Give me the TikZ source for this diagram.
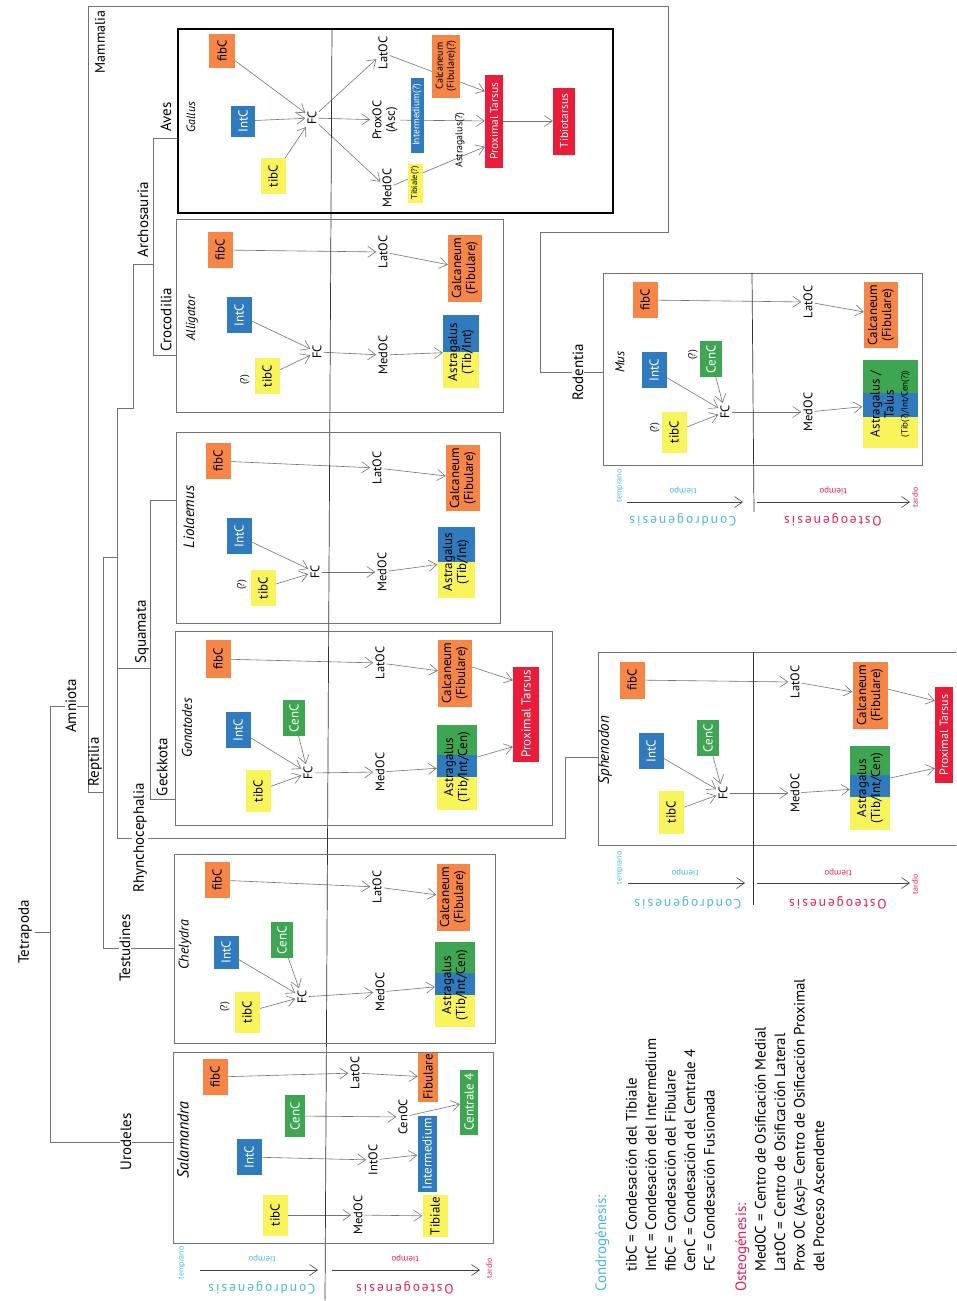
\documentclass[tikz,border=0pt]{standalone}
\usepackage{fontspec}
\setmainfont{PT Sans}
\newfontfamily\spaced[LetterSpace=14]{PT Sans}
\usetikzlibrary{arrows.meta}

\definecolor{cfib}{RGB}{246,134,72}
\definecolor{cint}{RGB}{48,122,190}
\definecolor{ctib}{RGB}{250,244,92}
\definecolor{ccen}{RGB}{62,166,82}
\definecolor{cprox}{RGB}{234,28,58}
\definecolor{ccond}{RGB}{72,182,226}
\definecolor{costeo}{RGB}{228,32,84}
\definecolor{lngray}{RGB}{115,115,115}

\pgfdeclarelayer{bg}
\pgfsetlayers{bg,main}

\newcommand{\fsz}[2]{\fontsize{#1}{#2}\selectfont}

\tikzset{
  arr/.style={draw=lngray, line width=.6pt, -{Straight Barb[length=8pt,width=11pt]}},
  tarr/.style={draw=black!75, line width=.6pt, -{Straight Barb[length=8pt,width=11pt]}},
  cbox/.style={rotate=90, inner sep=1pt, align=center, font=\fsz{13}{14}, minimum width=36pt, minimum height=25pt},
  fib/.style={cbox, fill=cfib},
  int/.style={cbox, fill=cint, text=white},
  tib/.style={cbox, fill=ctib},
  cen/.style={cbox, fill=ccen, text=white, minimum height=22pt},
  prox/.style={cbox, fill=cprox, text=white},
  lbl/.style={rotate=90, inner sep=2pt, align=center, font=\fsz{12.5}{13.5}},
  unsure/.style={rotate=90, inner sep=0pt, font=\fsz{10}{11}},
  taxon/.style={rotate=90, inner sep=1pt, font=\fsz{14}{15}\itshape},
  clade/.style={rotate=90, inner sep=1pt, font=\fsz{15}{16}},
  onstem/.style={clade, fill=white},
  panel/.style={draw=lngray, line width=.5pt},
  tree/.style={draw=lngray, line width=.5pt},
  tword/.style={rotate=180, inner sep=0pt, font=\fsz{9}{10}},
  gen/.style={rotate=180, inner sep=0pt, font=\fsz{13.5}{14}\spaced},
  endword/.style={rotate=90, inner sep=0pt, font=\fsz{8}{9}},
}

\begin{document}
\begin{tikzpicture}[x=1pt,y=-1pt]
\useasboundingbox (0,0) rectangle (956,1301);

% ---------- phylogeny ----------
\begin{pgfonlayer}{bg}
\draw[tree] (35,932) -- (50,932);
\draw[tree] (50,706) -- (50,1142) -- (173,1142);
\draw[tree] (50,706) -- (88,706);
\draw[tree] (603,372) -- (540,372) -- (540,232) -- (668,232) -- (668,6) -- (88,6) -- (88,792) -- (103,792);
\draw[tree] (103,557) -- (103,948) -- (174,948);
\draw[tree] (103,557) -- (117,557);
\draw[tree] (117,408) -- (117,838) -- (565,838) -- (565,757) -- (598,757);
\draw[tree] (117,408) -- (133,408) -- (133,264) -- (153,264);
\draw[tree] (178,138) -- (153,138) -- (153,355) -- (176,355);
\draw[tree] (117,668) -- (150,668);
\draw[tree] (176,500) -- (150,500) -- (150,799) -- (175,799);
\end{pgfonlayer}

\node[clade] (tetrapoda) at (25,932) {Tetrapoda};
\node[onstem] (urodeles) at (126,1142) {Urodeles};
\node[onstem] (amniota) at (71,706) {Amniota};
\node[clade, font=\fsz{14}{15}] (mammalia) at (100,42) {Mammalia};
\node[onstem] (rodentia) at (578,372) {Rodentia};
\node[clade] (reptilia) at (95,762) {Reptilia};
\node[onstem] (testudines) at (125,948) {Testudines};
\node[onstem] (rhyncho) at (140,838) {Rhynchocephalia};
\node[clade] (squamata) at (142,632) {Squamata};
\node[clade] (geckkota) at (162,767) {Geckkota};
\node[clade] (archo) at (143,220) {Archosauria};
\node[clade] (croco) at (166,320) {Crocodilia};
\node[clade] (aves) at (166,117) {Aves};

% long divider chondrogenesis / osteogenesis
\draw[black!80, line width=.7pt] (332,28) -- (325,1300);

% ---------- Gallus ----------
\draw[line width=1.4pt] (178,29) rectangle (613,213);
\node[taxon, font=\fsz{12}{13}\itshape] (gallus) at (191,117) {Gallus};
\node[fib, minimum width=34pt, minimum height=26pt] (galfib) at (222,51) {fibC};
\node[int, minimum width=31pt, minimum height=24pt] (galint) at (243,121) {IntC};
\node[tib] (galtib) at (273,176) {tibC};
\node[lbl] (galfc) at (312,118) {FC};
\node[lbl] (gallat) at (383,53) {LatOC};
\node[lbl] (galprox) at (385,120) {ProxOC\\(Asc)};
\node[lbl] (galmed) at (387,188) {MedOC};
\node[int, font=\fsz{9.5}{10}, minimum width=75pt, minimum height=13pt] (galintm) at (417,115) {Intermedium(?)};
\node[tib, font=\fsz{8.5}{9}, minimum width=39pt, minimum height=15pt] (galtibl) at (415,183) {Tibiale(?)};
\node[fib, font=\fsz{10}{11}, minimum width=63pt, minimum height=28pt] (galcal) at (446,66) {Calcaneum\\(Fibulare)(?)};
\node[lbl, font=\fsz{10}{11}] (galast) at (460,140) {Astragalus(?)};
\node[prox, font=\fsz{11.5}{12}, minimum width=93pt, minimum height=18pt] (galpt) at (494,121) {Proximal Tarsus};
\node[prox, font=\fsz{11.5}{12}, minimum width=67pt, minimum height=22pt] (galtt) at (564,121) {Tibiotarsus};

\begin{pgfonlayer}{bg}
\draw[arr] (galfib) -- (galfc);
\draw[arr] (galint) -- (galfc);
\draw[arr] (galtib) -- (galfc);
\draw[arr] (galfc) -- (gallat);
\draw[arr] (galfc) -- (galprox);
\draw[arr] (galfc) -- (galmed);
\draw[arr] (gallat) -- ([yshift=-17pt]galpt.north east);
\draw[arr] (galprox) -- (galpt);
\draw[arr] (galmed) -- ([yshift=21pt]galpt.north west);
\draw[arr] (galpt) -- (galtt);
\end{pgfonlayer}

% ---------- Alligator ----------
\draw[panel] (176,219) rectangle (503,412);
\node[taxon, font=\fsz{13}{14}\itshape] (alligator) at (192,318) {Alligator};
\node[fib] (allfib) at (220,250) {fibC};
\node[int] (allint) at (239,315) {IntC};
\node[tib] (alltib) at (267,376) {tibC};
\node[unsure] (allq) at (245,380) {(?)};
\node[lbl] (allfc) at (317,352) {FC};
\node[lbl] (alllat) at (383,252) {LatOC};
\node[lbl] (allmed) at (383,355) {MedOC};
\node[fib, minimum width=67pt, minimum height=34pt] (allcal) at (465,268) {Calcaneum\\(Fibulare)};
\fill[cint] (443,315) rectangle (479,352);
\fill[ctib] (443,352) rectangle (479,388);
\node[lbl, font=\fsz{13}{14}, minimum width=73pt, minimum height=36pt] (allast) at (461,352) {Astragalus\\(Tib/Int)};

\begin{pgfonlayer}{bg}
\draw[arr] (allfib) -- (alllat);
\draw[arr] (alllat) -- (allcal);
\draw[arr] (allint) -- (allfc);
\draw[arr] (alltib) -- (allfc);
\draw[arr] (allfc) -- (allmed);
\draw[arr] (allmed) -- (allast);
\end{pgfonlayer}

% ---------- Liolaemus ----------
\draw[panel] (176,432) rectangle (500,623);
\node[taxon, font=\fsz{15}{16}\itshape] (liolaemus) at (189,517) {Liolaemus};
\node[fib] (liofib) at (218,461) {fibC};
\node[int] (lioint) at (239,536) {IntC};
\node[tib] (liotib) at (263,588) {tibC};
\node[unsure] (lioq) at (242,585) {(?)};
\node[lbl] (liofc) at (315,572) {FC};
\node[lbl] (liolat) at (377,468) {LatOC};
\node[lbl] (liomed) at (382,572) {MedOC};
\node[fib, minimum width=66pt, minimum height=34pt] (liocal) at (463,478) {Calcaneum\\(Fibulare)};
\fill[cint] (438,527) rectangle (475,562);
\fill[ctib] (438,562) rectangle (475,598);
\node[lbl, font=\fsz{13}{14}, minimum width=71pt, minimum height=37pt] (lioast) at (456,562) {Astragalus\\(Tib/Int)};

\begin{pgfonlayer}{bg}
\draw[arr] (liofib) -- (liolat);
\draw[arr] (liolat) -- (liocal);
\draw[arr] (lioint) -- (liofc);
\draw[arr] (liotib) -- (liofc);
\draw[arr] (liofc) -- (liomed);
\draw[arr] (liomed) -- (lioast);
\end{pgfonlayer}

% ---------- Gonatodes ----------
\draw[panel] (175,631) rectangle (552,825);
\node[taxon] (gonatodes) at (187,728) {Gonatodes};
\node[fib, minimum width=38pt] (gonfib) at (218,659) {fibC};
\node[int] (gonint) at (238,730) {IntC};
\node[cen] (goncen) at (294,718) {CenC};
\node[tib, minimum width=42pt] (gontib) at (258,791) {tibC};
\node[lbl] (gonfc) at (308,773) {FC};
\node[lbl] (gonlat) at (380,663) {LatOC};
\node[lbl] (gonmed) at (380,772) {MedOC};
\node[fib, minimum width=67pt, minimum height=34pt] (goncal) at (455,673) {Calcaneum\\(Fibulare)};
\fill[ccen] (437,725) rectangle (477,755);
\fill[cint] (437,755) rectangle (477,777);
\fill[ctib] (437,777) rectangle (477,810);
\node[lbl, font=\fsz{13}{14}, minimum width=85pt, minimum height=40pt] (gonast) at (457,767) {Astragalus\\(Tib/Int/Cen)};
\node[prox, minimum width=95pt, minimum height=26pt] (gonpt) at (526,714) {Proximal Tarsus};

\begin{pgfonlayer}{bg}
\draw[arr] (gonfib) -- (gonlat);
\draw[arr] (gonlat) -- (goncal);
\draw[arr] (gonint) -- (gonfc);
\draw[arr] (goncen) -- (gonfc);
\draw[arr] (gontib) -- (gonfc);
\draw[arr] (gonfc) -- (gonmed);
\draw[arr] (gonmed) -- (gonast);
\draw[arr] ([yshift=6pt]goncal.south) -- ([yshift=-14pt]gonpt.north east);
\draw[arr] ([yshift=10pt]gonast.south) -- ([yshift=15pt]gonpt.north west);
\end{pgfonlayer}

% ---------- Chelydra ----------
\draw[panel] (174,854) rectangle (495,1043);
\node[taxon] (chelydra) at (185,945) {Chelydra};
\node[fib] (chefib) at (217,880) {fibC};
\node[int, minimum width=33pt] (cheint) at (226,952) {IntC};
\node[cen] (checen) at (282,940) {CenC};
\node[tib, minimum width=41pt] (chetib) at (247,1012) {tibC};
\node[unsure] (cheq) at (225,1007) {(?)};
\node[lbl] (chefc) at (302,997) {FC};
\node[lbl] (chelat) at (377,887) {LatOC};
\node[lbl] (chemed) at (380,992) {MedOC};
\node[fib, minimum width=67pt, minimum height=33pt] (checal) at (453,897) {Calcaneum\\(Fibulare)};
\fill[ccen] (435,942) rectangle (475,973);
\fill[cint] (435,973) rectangle (475,995);
\fill[ctib] (435,995) rectangle (475,1027);
\node[lbl, font=\fsz{13}{14}, minimum width=85pt, minimum height=40pt] (cheast) at (455,985) {Astragalus\\(Tib/Int/Cen)};

\begin{pgfonlayer}{bg}
\draw[arr] (chefib) -- (chelat);
\draw[arr] (chelat) -- (checal);
\draw[arr] (cheint) -- (chefc);
\draw[arr] (checen) -- (chefc);
\draw[arr] (chetib) -- (chefc);
\draw[arr] (chefc) -- (chemed);
\draw[arr] (chemed) -- (cheast);
\end{pgfonlayer}

% ---------- Salamandra ----------
\draw[panel] (173,1052) rectangle (493,1243);
\node[taxon, font=\fsz{16}{17}\itshape] (salamandra) at (183,1140) {Salamandra};
\node[fib] (salfib) at (215,1077) {fibC};
\node[cen, minimum width=42pt, minimum height=20pt] (salcen) at (295,1116) {CenC};
\node[int] (salint) at (249,1157) {IntC};
\node[tib, minimum width=41pt] (saltib) at (275,1215) {tibC};
\node[lbl] (sallat) at (355,1073) {LatOC};
\node[lbl] (salcenoc) at (403,1117) {CenOC};
\node[lbl] (salintoc) at (373,1160) {IntOC};
\node[lbl] (salmed) at (358,1215) {MedOC};
\node[fib, minimum width=49pt, minimum height=20pt] (salfibl) at (428,1077) {Fibulare};
\node[cen, minimum width=65pt, minimum height=18pt] (salcfour) at (469,1102) {Centrale 4};
\node[int, minimum width=76pt, minimum height=19pt] (salintm) at (427,1154) {Intermedium};
\node[tib, minimum width=42pt, minimum height=25pt] (saltibl) at (435,1216) {Tibiale};

\begin{pgfonlayer}{bg}
\draw[arr] (salfib) -- (sallat);
\draw[arr] (sallat) -- (salfibl);
\draw[arr] (salcen) -- (salcenoc);
\draw[arr] (salcenoc) -- (salcfour);
\draw[arr] (salint) -- (salintoc);
\draw[arr] (salintoc) -- (salintm);
\draw[arr] (saltib) -- (salmed);
\draw[arr] (salmed) -- (saltibl);
\end{pgfonlayer}

% time axes below Salamandra
\coordinate (salt0) at (200,1270); \coordinate (salt1) at (318,1270);
\coordinate (salt2) at (332,1270); \coordinate (salt3) at (480,1270);
\draw[tarr] (salt0) -- (salt1);
\draw[tarr] (salt2) -- (salt3);
\node[endword, text=ccond] (saltemp) at (182,1263) {temprano};
\node[tword, text=ccond] (saltc) at (262,1259) {tiempo};
\node[gen, text=ccond] (salcond) at (262,1288) {Condrogenesis};
\node[tword, text=costeo] (salto) at (405,1259) {tiempo};
\node[gen, text=costeo] (salost) at (405,1288) {Osteogenesis};
\node[endword, text=costeo] (saltard) at (489,1268) {tardio};

% ---------- Mus ----------
\draw[panel] (603,273) rectangle (922,465);
\draw[black!80, line width=.7pt] (752,273) -- (754,512);
\node[taxon, font=\fsz{13}{14}\itshape] (mus) at (620,362) {Mus};
\node[fib] (musfib) at (645,300) {fibC};
\node[int] (musint) at (654,370) {IntC};
\node[cen] (muscen) at (711,359) {CenC};
\node[unsure] (muscq) at (693,355) {(?)};
\node[tib, minimum width=41pt] (mustib) at (674,432) {tibC};
\node[unsure] (mustq) at (655,428) {(?)};
\node[lbl] (musfc) at (725,412) {FC};
\node[lbl] (muslat) at (808,302) {LatOC};
\node[lbl] (musmed) at (808,412) {MedOC};
\node[fib, minimum width=66pt, minimum height=34pt] (muscal) at (881,315) {Calcaneum\\(Fibulare)};
\fill[ccen] (863,360) rectangle (918,393);
\fill[cint] (863,393) rectangle (918,417);
\fill[ctib] (863,417) rectangle (918,448);
\node[lbl, font=\fsz{13}{14}, minimum width=88pt, minimum height=55pt] (musast) at (890,404) {Astragalus /\\Talus\\{\fsz{9}{11}(Tib(?)/Int/Cen(?))}};

\begin{pgfonlayer}{bg}
\draw[arr] (musfib) -- (muslat);
\draw[arr] (muslat) -- (muscal);
\draw[arr] (musint) -- (musfc);
\draw[arr] (muscen) -- (musfc);
\draw[arr] (mustib) -- (musfc);
\draw[arr] (musfc) -- (musmed);
\draw[arr] (musmed) -- (musast);
\end{pgfonlayer}

\coordinate (must0) at (627,502); \coordinate (must1) at (743,502);
\coordinate (must2) at (757,502); \coordinate (must3) at (910,502);
\draw[tarr] (must0) -- (must1);
\draw[tarr] (must2) -- (must3);
\node[endword, text=ccond] (mustemp) at (620,486) {temprano};
\node[tword, text=ccond] (musc) at (683,491) {tiempo};
\node[gen, text=ccond] (muscond) at (683,520) {Condrogenesis};
\node[tword, text=costeo] (muso) at (833,491) {tiempo};
\node[gen, text=costeo] (musost) at (833,520) {Osteogenesis};
\node[endword, text=costeo] (mustard) at (915,497) {tardio};

% ---------- Sphenodon ----------
\draw[panel] (956,652) -- (598,652) -- (598,845) -- (956,845);
\draw[black!80, line width=.7pt] (753,652) -- (753,905);
\node[taxon, font=\fsz{15}{16}\itshape] (sphenodon) at (605,750) {Sphenodon};
\node[fib, minimum width=37pt] (sphfib) at (632,680) {fibC};
\node[int] (sphint) at (651,751) {IntC};
\node[cen] (sphcen) at (708,738) {CenC};
\node[tib, minimum width=43pt] (sphtib) at (671,812) {tibC};
\node[lbl] (sphfc) at (723,793) {FC};
\node[lbl] (sphlat) at (795,682) {LatOC};
\node[lbl] (sphmed) at (795,793) {MedOC};
\node[fib, minimum width=67pt, minimum height=35pt] (sphcal) at (870,695) {Calcaneum\\(Fibulare)};
\fill[ccen] (850,746) rectangle (890,775);
\fill[cint] (850,775) rectangle (890,797);
\fill[ctib] (850,797) rectangle (890,830);
\node[lbl, font=\fsz{13}{14}, minimum width=84pt, minimum height=40pt] (sphast) at (870,788) {Astragalus\\(Tib/Int/Cen)};
\node[prox, font=\fsz{12}{13}, minimum width=96pt, minimum height=18pt] (sphpt) at (944,735) {Proximal Tarsus};

\begin{pgfonlayer}{bg}
\draw[arr] (sphfib) -- (sphlat);
\draw[arr] (sphlat) -- (sphcal);
\draw[arr] (sphint) -- (sphfc);
\draw[arr] (sphcen) -- (sphfc);
\draw[arr] (sphtib) -- (sphfc);
\draw[arr] (sphfc) -- (sphmed);
\draw[arr] (sphmed) -- (sphast);
\draw[arr] ([yshift=6pt]sphcal.south) -- ([yshift=-14pt]sphpt.north east);
\draw[arr] ([yshift=10pt]sphast.south) -- ([yshift=15pt]sphpt.north west);
\end{pgfonlayer}

\coordinate (spht0) at (628,883); \coordinate (spht1) at (745,883);
\coordinate (spht2) at (757,883); \coordinate (spht3) at (910,883);
\draw[tarr] (spht0) -- (spht1);
\draw[tarr] (spht2) -- (spht3);
\node[endword, text=ccond] (sphtemp) at (620,868) {temprano};
\node[tword, text=ccond] (sphc) at (685,873) {tiempo};
\node[gen, text=ccond] (sphcond) at (688,903) {Condrogenesis};
\node[tword, text=costeo] (spho) at (838,873) {tiempo};
\node[gen, text=costeo] (sphost) at (838,903) {Osteogenesis};
\node[endword, text=costeo] (sphtard) at (915,884) {tardio};

% ---------- legend ----------
\node[rotate=90, anchor=north west, align=left, inner sep=0pt, font=\fsz{15}{19.5}] (condleg) at (595,1292)
  {{\color{ccond}Condrogénesis:}\\[11pt]
   \hspace*{20pt}tibC = Condesación del Tibiale\\
   \hspace*{20pt}IntC = Condesación del Intermedium\\
   \hspace*{20pt}fibC = Condesación del Fibulare\\
   \hspace*{20pt}CenC = Condesación del Centrale 4\\
   \hspace*{20pt}FC = Condesación Fusionada};
\node[rotate=90, anchor=north west, align=left, inner sep=0pt, font=\fsz{15}{19.5}] (osteoleg) at (735,1292)
  {{\color{costeo}Osteogénesis:}\\
   \hspace*{20pt}MedOC = Centro de Osificación Medial\\
   \hspace*{20pt}LatOC = Centro de Osificación Lateral\\
   \hspace*{20pt}Prox OC (Asc)= Centro de Osificación Proximal\\
   \hspace*{20pt}del Proceso Ascendente};

\end{tikzpicture}
\end{document}
